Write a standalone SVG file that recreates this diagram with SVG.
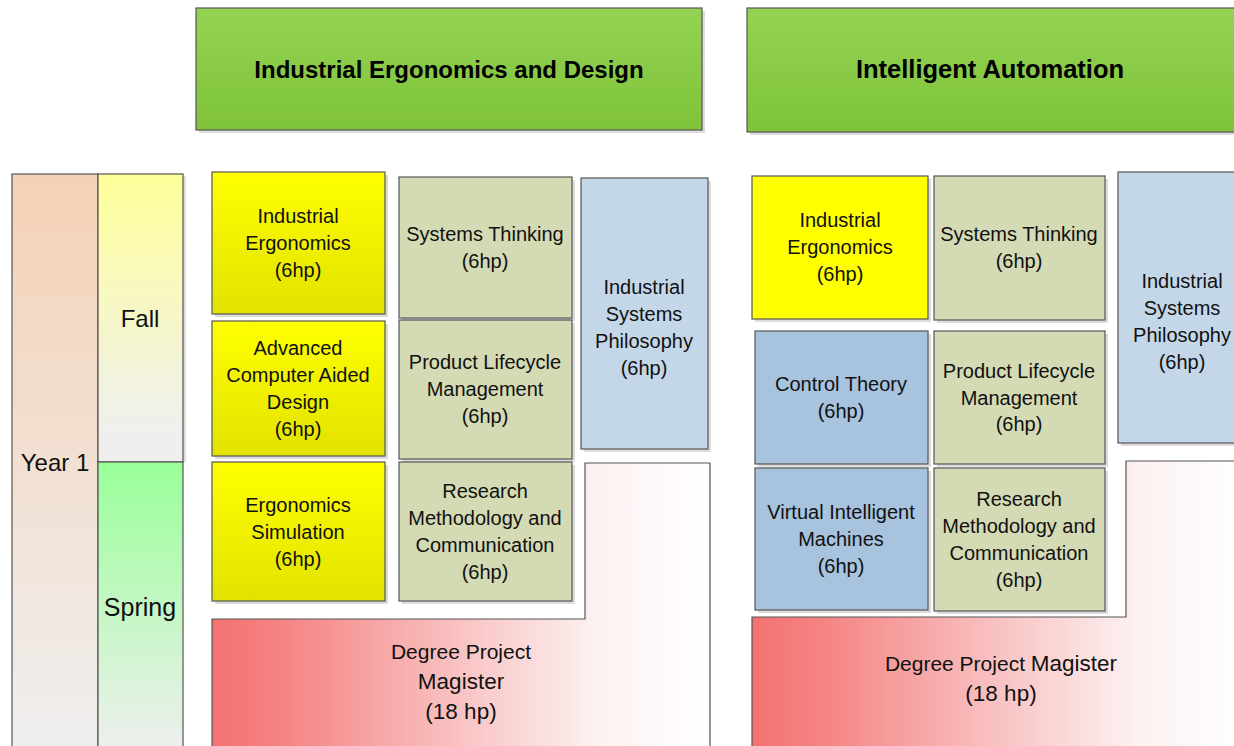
<svg xmlns="http://www.w3.org/2000/svg" width="1234" height="746" viewBox="0 0 1234 746">
<defs>
<linearGradient id="gHead" x1="0" y1="0" x2="0" y2="1"><stop offset="0" stop-color="#93d352"/><stop offset="1" stop-color="#7fc33a"/></linearGradient>
<linearGradient id="gYear" x1="0" y1="0" x2="0" y2="1"><stop offset="0" stop-color="#f4d1b6"/><stop offset="1" stop-color="#efefef"/></linearGradient>
<linearGradient id="gFall" x1="0" y1="0" x2="0" y2="1"><stop offset="0" stop-color="#ffff99"/><stop offset="0.9" stop-color="#efefef"/><stop offset="1" stop-color="#efefef"/></linearGradient>
<linearGradient id="gSpring" x1="0" y1="0" x2="0" y2="1"><stop offset="0" stop-color="#99ff99"/><stop offset="1" stop-color="#efefef"/></linearGradient>
<linearGradient id="gYel" x1="0" y1="0" x2="0" y2="1"><stop offset="0" stop-color="#ffff00"/><stop offset="1" stop-color="#e2e200"/></linearGradient>
<linearGradient id="gDeg" x1="0" y1="0" x2="1" y2="0"><stop offset="0" stop-color="#f47171"/><stop offset="0.15" stop-color="#f58585"/><stop offset="0.5" stop-color="#f9c3c3"/><stop offset="0.78" stop-color="#fdf2f2"/><stop offset="1" stop-color="#ffffff"/></linearGradient>
</defs>
<style>
.box{stroke:#555;stroke-width:1.2}
.sh{fill:#dcdcdc}
.t{font-family:"Liberation Sans",Arial,sans-serif;font-size:20px;fill:#111;text-anchor:middle}
.big{font-family:"Liberation Sans",Arial,sans-serif;font-size:24px;fill:#111;text-anchor:middle}
.h{font-family:"Liberation Sans",Arial,sans-serif;font-size:24px;font-weight:bold;fill:#000;text-anchor:middle}
.st{fill:#d4dab4}
.isp{fill:#c4d7e9}
.ct{fill:#a7c3de}
</style>
<rect width="1234" height="746" fill="#ffffff"/>

<g id="header-ied">
<rect class="sh" x="199" y="11" width="506" height="122"/>
<rect class="box" x="196" y="8" width="506" height="122" fill="url(#gHead)"/>
<text class="h" x="449" y="78">Industrial Ergonomics and Design</text>
</g>
<g id="header-ia">
<rect class="sh" x="750" y="11" width="490" height="124"/>
<rect class="box" x="747" y="8" width="490" height="124" fill="url(#gHead)"/>
<text class="h" x="990" y="78" style="font-size:25.5px">Intelligent Automation</text>
</g>

<g id="year1">
<rect class="box" x="12" y="174" width="86" height="580" fill="url(#gYear)"/>
<text class="big" x="55" y="471">Year 1</text>
</g>
<g id="fall">
<rect class="sh" x="183" y="176" width="3" height="286"/>
<rect class="box" x="98" y="174" width="85" height="288" fill="url(#gFall)"/>
<text class="big" x="140" y="327">Fall</text>
</g>
<g id="spring">
<rect class="box" x="98" y="462" width="85" height="292" fill="url(#gSpring)"/>
<text class="big" x="140" y="616" style="font-size:25px">Spring</text>
</g>

<!-- Left program -->
<g id="l-ie">
<rect class="sh" x="215" y="175" width="173" height="142"/>
<rect class="box" x="212" y="172" width="173" height="142" fill="url(#gYel)"/>
<text class="t" x="298" y="223">Industrial</text>
<text class="t" x="298" y="250">Ergonomics</text>
<text class="t" x="298" y="277">(6hp)</text>
</g>
<g id="l-acad">
<rect class="sh" x="215" y="324" width="173" height="135"/>
<rect class="box" x="212" y="321" width="173" height="135" fill="url(#gYel)"/>
<text class="t" x="298" y="355">Advanced</text>
<text class="t" x="298" y="382">Computer Aided</text>
<text class="t" x="298" y="409">Design</text>
<text class="t" x="298" y="436">(6hp)</text>
</g>
<g id="l-es">
<rect class="sh" x="215" y="465" width="173" height="139"/>
<rect class="box" x="212" y="462" width="173" height="139" fill="url(#gYel)"/>
<text class="t" x="298" y="512">Ergonomics</text>
<text class="t" x="298" y="539">Simulation</text>
<text class="t" x="298" y="566">(6hp)</text>
</g>
<g id="l-st">
<rect class="sh" x="402" y="180" width="173" height="141"/>
<rect class="box st" x="399" y="177" width="173" height="141"/>
<text class="t" x="485" y="241">Systems Thinking</text>
<text class="t" x="485" y="268">(6hp)</text>
</g>
<g id="l-plm">
<rect class="sh" x="402" y="323" width="173" height="139"/>
<rect class="box st" x="399" y="320" width="173" height="139"/>
<text class="t" x="485" y="369">Product Lifecycle</text>
<text class="t" x="485" y="396">Management</text>
<text class="t" x="485" y="423">(6hp)</text>
</g>
<g id="l-rmc">
<rect class="sh" x="402" y="465" width="173" height="139"/>
<rect class="box st" x="399" y="462" width="173" height="139"/>
<text class="t" x="485" y="498">Research</text>
<text class="t" x="485" y="525">Methodology and</text>
<text class="t" x="485" y="552">Communication</text>
<text class="t" x="485" y="579">(6hp)</text>
</g>
<g id="l-isp">
<rect class="sh" x="584" y="181" width="127" height="271"/>
<rect class="box isp" x="581" y="178" width="127" height="271"/>
<text class="t" x="644" y="294">Industrial</text>
<text class="t" x="644" y="321">Systems</text>
<text class="t" x="644" y="348">Philosophy</text>
<text class="t" x="644" y="375">(6hp)</text>
</g>
<g id="l-degree">
<path class="box" d="M212,619 H585 V463 H710 V760 H212 Z" fill="url(#gDeg)"/>
<text class="t" x="461" y="659" style="font-size:21px">Degree Project</text>
<text class="t" x="461" y="689" style="font-size:22.5px">Magister</text>
<text class="t" x="461" y="719" style="font-size:22.5px">(18 hp)</text>
</g>

<!-- Right program -->
<g id="r-ie">
<rect class="sh" x="755" y="179" width="176" height="143"/>
<rect class="box" x="752" y="176" width="176" height="143" fill="#ffff00"/>
<text class="t" x="840" y="227">Industrial</text>
<text class="t" x="840" y="254">Ergonomics</text>
<text class="t" x="840" y="281">(6hp)</text>
</g>
<g id="r-st">
<rect class="sh" x="937" y="179" width="171" height="144"/>
<rect class="box st" x="934" y="176" width="171" height="144"/>
<text class="t" x="1019" y="241">Systems Thinking</text>
<text class="t" x="1019" y="268">(6hp)</text>
</g>
<g id="r-isp">
<rect class="sh" x="1121" y="175" width="120" height="271"/>
<rect class="box isp" x="1118" y="172" width="122" height="271"/>
<text class="t" x="1182" y="288">Industrial</text>
<text class="t" x="1182" y="315">Systems</text>
<text class="t" x="1182" y="342">Philosophy</text>
<text class="t" x="1182" y="369">(6hp)</text>
</g>
<g id="r-ct">
<rect class="sh" x="758" y="334" width="173" height="133"/>
<rect class="box ct" x="755" y="331" width="173" height="133"/>
<text class="t" x="841" y="391">Control Theory</text>
<text class="t" x="841" y="418">(6hp)</text>
</g>
<g id="r-plm">
<rect class="sh" x="937" y="334" width="171" height="133"/>
<rect class="box st" x="934" y="331" width="171" height="133"/>
<text class="t" x="1019" y="378">Product Lifecycle</text>
<text class="t" x="1019" y="405">Management</text>
<text class="t" x="1019" y="431">(6hp)</text>
</g>
<g id="r-vim">
<rect class="sh" x="758" y="471" width="173" height="142"/>
<rect class="box ct" x="755" y="468" width="173" height="142"/>
<text class="t" x="841" y="519">Virtual Intelligent</text>
<text class="t" x="841" y="546">Machines</text>
<text class="t" x="841" y="573">(6hp)</text>
</g>
<g id="r-rmc">
<rect class="sh" x="937" y="471" width="171" height="143"/>
<rect class="box st" x="934" y="468" width="171" height="143"/>
<text class="t" x="1019" y="506">Research</text>
<text class="t" x="1019" y="533">Methodology and</text>
<text class="t" x="1019" y="560">Communication</text>
<text class="t" x="1019" y="587">(6hp)</text>
</g>
<g id="r-degree">
<path class="box" d="M752,617 H1126 V461 H1250 V760 H752 Z" fill="url(#gDeg)"/>
<text class="t" x="1001" y="671" style="font-size:21px">Degree Project <tspan style="font-size:22.5px">Magister</tspan></text>
<text class="t" x="1001" y="701" style="font-size:22.5px">(18 hp)</text>
</g>

<g id="connectors"/>
</svg>
